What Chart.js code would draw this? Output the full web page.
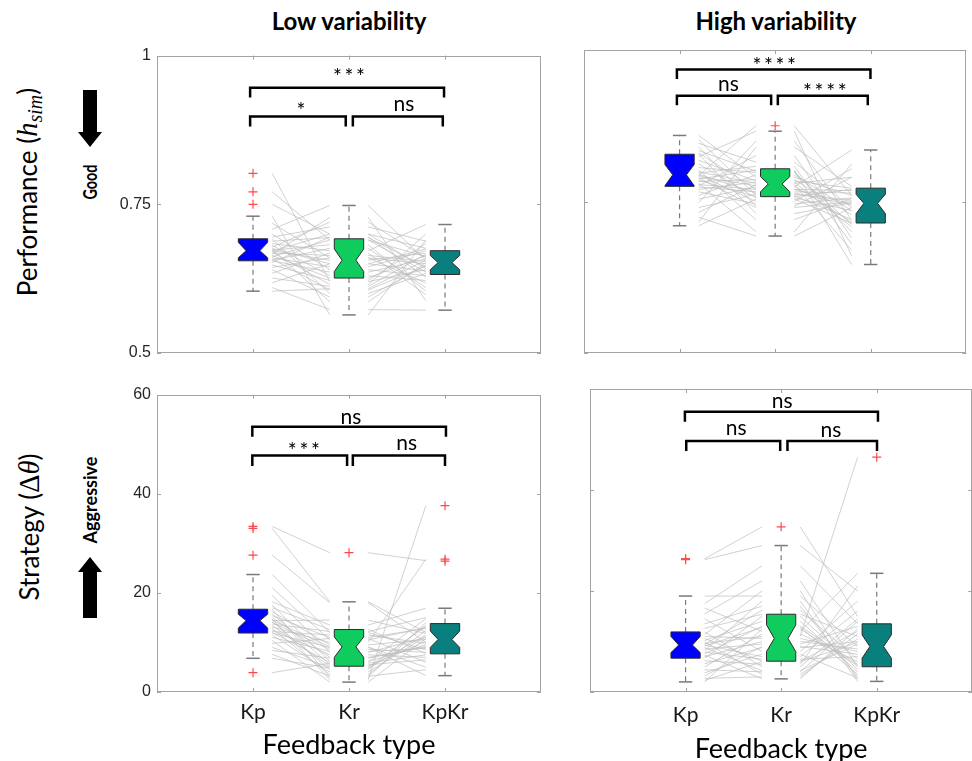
<!DOCTYPE html>
<html>
<head>
<meta charset="utf-8">
<title>Feedback type boxplots</title>
<script src="https://cdn.jsdelivr.net/npm/chart.js@4.4.1/dist/chart.umd.min.js"></script>
<style>
  html, body { margin: 0; padding: 0; background: #fff; overflow: hidden; }
  #page { position: relative; width: 972px; height: 761px; overflow: hidden; }
  canvas { position: absolute; }
  .title { position: absolute; transform: translateX(-50%); font: bold 24px Lato, 'Open Sans', sans-serif; white-space: nowrap; color: #000; }
  .side { position: absolute; transform: translate(-50%, -50%) rotate(-90deg); white-space: nowrap; color: #000; }
  .ylab { font: 26px Lato, 'Open Sans', sans-serif; }
  .hint { font: bold 18px Lato, 'Open Sans', sans-serif; }
  .math { font-family: 'Liberation Serif', 'DejaVu Serif', serif; font-size: 110%; }
  .math sub { font-size: 70%; vertical-align: -0.25em; }
</style>
</head>
<body>
<div id="page">
  <div class="title" style="left:349px; top:6px">Low variability</div>
  <div class="title" style="left:776px; top:6px">High variability</div>

  <div class="side ylab" style="left:29px; top:192px">Performance (<i class="math">h<sub>sim</sub></i>)</div>
  <div class="side ylab" style="left:29px; top:527px">Strategy (<span class="math">&Delta;<i>&theta;</i></span>)</div>
  <div class="side hint" style="left:90px; top:182px; transform: translate(-50%, -50%) rotate(-90deg) scaleX(0.8)">Good</div>
  <div class="side hint" style="left:90px; top:500px">Aggressive</div>

  <svg width="160" height="761" style="position:absolute; left:0; top:0">
    <polygon points="83,90 97,90 97,132 102,132 90,147 78,132 83,132" fill="#000"/>
    <polygon points="90,557 102,572 97,572 97,618 83,618 83,572 78,572" fill="#000"/>
  </svg>

  <canvas id="lowPerf" width="460" height="330" style="left:90px; top:40px"></canvas>
  <canvas id="highPerf" width="412" height="330" style="left:560px; top:40px"></canvas>
  <canvas id="lowStrat" width="460" height="382" style="left:90px; top:379px"></canvas>
  <canvas id="highStrat" width="412" height="386" style="left:566px; top:379px"></canvas>
</div>

<script>
const categories = ['Kp', 'Kr', 'KpKr'];
const perfTicks = [0.5, 0.75, 1];
const strategyTicks = [0, 20, 40, 60];
const boxColors = ['#0000ff', '#10cc5e', '#0a807e'];

// per-participant values, same order in each triple of arrays
const lowPerfKp = [0.802, 0.771, 0.750, 0.730, 0.718, 0.708, 0.700, 0.695, 0.692, 0.688, 0.684, 0.681, 0.678, 0.676, 0.674, 0.673, 0.672, 0.671, 0.670, 0.668, 0.666, 0.664, 0.662, 0.660, 0.658, 0.656, 0.655, 0.652, 0.648, 0.644, 0.640, 0.634, 0.626, 0.618, 0.610, 0.604];
const lowPerfKr = [0.620, 0.690, 0.700, 0.564, 0.660, 0.748, 0.640, 0.712, 0.600, 0.694, 0.672, 0.630, 0.720, 0.650, 0.586, 0.682, 0.656, 0.700, 0.615, 0.664, 0.728, 0.626, 0.690, 0.645, 0.606, 0.676, 0.636, 0.695, 0.622, 0.660, 0.594, 0.668, 0.612, 0.650, 0.573, 0.608];
const lowPerfKpKr = [0.640, 0.662, 0.676, 0.690, 0.650, 0.656, 0.630, 0.688, 0.634, 0.644, 0.716, 0.622, 0.660, 0.675, 0.652, 0.604, 0.668, 0.642, 0.700, 0.654, 0.588, 0.664, 0.636, 0.672, 0.646, 0.610, 0.658, 0.628, 0.684, 0.618, 0.648, 0.598, 0.666, 0.638, 0.572, 0.656];

const highPerfKp = [0.859, 0.852, 0.846, 0.840, 0.834, 0.830, 0.828, 0.824, 0.818, 0.812, 0.806, 0.802, 0.799, 0.797, 0.795, 0.794, 0.793, 0.791, 0.789, 0.787, 0.785, 0.783, 0.780, 0.778, 0.776, 0.774, 0.770, 0.766, 0.760, 0.754, 0.748, 0.740, 0.732, 0.724, 0.716, 0.710];
const highPerfKr = [0.790, 0.760, 0.815, 0.742, 0.800, 0.770, 0.730, 0.866, 0.784, 0.756, 0.798, 0.720, 0.780, 0.808, 0.764, 0.750, 0.875, 0.776, 0.740, 0.802, 0.758, 0.786, 0.700, 0.770, 0.826, 0.766, 0.782, 0.746, 0.794, 0.774, 0.850, 0.762, 0.778, 0.693, 0.840, 0.754];
const highPerfKpKr = [0.760, 0.720, 0.740, 0.790, 0.700, 0.768, 0.748, 0.660, 0.772, 0.735, 0.712, 0.755, 0.790, 0.680, 0.744, 0.804, 0.760, 0.716, 0.750, 0.646, 0.770, 0.728, 0.812, 0.746, 0.690, 0.764, 0.708, 0.756, 0.735, 0.835, 0.720, 0.752, 0.670, 0.740, 0.775, 0.714];

const lowStratKp = [33.4, 33.0, 27.6, 23.7, 21.0, 19.5, 18.2, 17.5, 17.0, 16.7, 16.2, 15.8, 15.4, 15.0, 14.7, 14.5, 14.4, 14.2, 14.0, 13.7, 13.4, 13.1, 12.8, 12.5, 12.2, 12.0, 11.9, 11.5, 11.0, 10.4, 9.8, 9.0, 8.4, 7.6, 6.8, 3.9];
const lowStratKr = [28.1, 18.2, 18.0, 12.0, 10.5, 8.0, 13.5, 6.2, 12.6, 3.0, 9.5, 5.5, 11.0, 7.0, 2.5, 9.1, 14.5, 4.5, 8.6, 12.2, 5.2, 10.0, 3.5, 7.5, 11.5, 6.0, 9.0, 4.0, 8.2, 2.0, 10.8, 5.0, 6.8, 3.2, 4.8, 5.8];
const lowStratKpKr = [26.5, 12.0, 10.0, 8.5, 13.0, 11.0, 16.9, 9.5, 7.8, 14.0, 10.6, 6.5, 12.8, 9.0, 37.6, 5.0, 11.8, 13.5, 8.0, 15.0, 10.2, 26.8, 12.4, 7.0, 9.8, 14.8, 3.3, 11.2, 8.8, 10.8, 6.0, 13.2, 9.2, 4.5, 11.5, 7.5];

const highStratKp = [26.4, 26.2, 19.0, 17.5, 16.6, 15.5, 14.5, 13.5, 12.6, 11.9, 11.4, 11.0, 10.6, 10.2, 9.9, 9.6, 9.4, 9.3, 9.1, 8.8, 8.5, 8.2, 7.9, 7.6, 7.3, 7.0, 6.7, 6.2, 5.6, 5.0, 4.4, 3.8, 3.2, 2.7, 2.3, 2.0];
const highStratKr = [32.7, 29.0, 19.0, 25.0, 12.0, 22.0, 8.0, 17.0, 15.4, 5.0, 20.0, 10.6, 6.1, 14.0, 3.5, 11.0, 16.2, 7.0, 12.8, 4.2, 9.5, 18.0, 6.5, 13.0, 2.6, 10.0, 15.0, 5.5, 8.8, 11.5, 4.0, 7.5, 9.0, 3.0, 6.0, 12.5];
const highStratKpKr = [15.0, 20.0, 9.0, 13.5, 23.5, 5.0, 18.0, 3.0, 11.0, 14.5, 2.5, 8.0, 12.0, 4.0, 10.5, 46.5, 6.5, 16.0, 3.5, 9.5, 13.0, 2.1, 7.0, 5.5, 12.5, 8.5, 4.5, 21.0, 10.0, 6.0, 14.0, 2.8, 7.5, 11.5, 9.8, 5.2];

// box summaries, one entry per feedback type (Kp, Kr, KpKr)
const lowPerfMedian = [0.672, 0.656, 0.652];
const lowPerfQ1 = [0.655, 0.626, 0.632];
const lowPerfQ3 = [0.692, 0.692, 0.672];
const lowPerfWhiskLo = [0.604, 0.564, 0.572];
const lowPerfWhiskHi = [0.730, 0.748, 0.716];
const lowPerfNotchLo = [0.660, 0.637, 0.640];
const lowPerfNotchHi = [0.686, 0.675, 0.664];
const lowPerfOutliers = [[0.802, 0.771, 0.750], [], []];

const highPerfMedian = [0.794, 0.779, 0.747];
const highPerfQ1 = [0.775, 0.758, 0.7145];
const highPerfQ3 = [0.828, 0.804, 0.772];
const highPerfWhiskLo = [0.710, 0.693, 0.646];
const highPerfWhiskHi = [0.859, 0.866, 0.835];
const highPerfNotchLo = [0.776, 0.766, 0.730];
const highPerfNotchHi = [0.811, 0.791, 0.762];
const highPerfOutliers = [[], [0.875], []];

const lowStratMedian = [14.4, 9.1, 10.6];
const lowStratQ1 = [11.9, 5.2, 7.7];
const lowStratQ3 = [16.7, 12.6, 13.8];
const lowStratWhiskLo = [6.8, 2.0, 3.3];
const lowStratWhiskHi = [23.7, 18.2, 16.9];
const lowStratNotchLo = [12.9, 7.0, 9.0];
const lowStratNotchHi = [15.7, 11.1, 12.3];
const lowStratOutliers = [[33.4, 33.0, 27.6, 3.9], [28.1], [37.6, 26.8, 26.4]];

const highStratMedian = [9.3, 10.6, 9.0];
const highStratQ1 = [6.7, 6.1, 5.0];
const highStratQ3 = [11.9, 15.4, 13.5];
const highStratWhiskLo = [2.0, 2.6, 2.1];
const highStratWhiskHi = [19.0, 29.0, 23.5];
const highStratNotchLo = [7.8, 8.0, 6.7];
const highStratNotchHi = [11.0, 13.3, 11.3];
const highStratOutliers = [[26.4, 26.2], [32.7], [46.5]];

// significance brackets (x in category units, y in data units)
const lowPerfBrackets = [
    { from: 0.97, to: 2.99, bar: 0.946, tip: 0.9295, label: '***', lx: 2.0, ly: 0.974 },
    { from: 0.97, to: 1.966, bar: 0.8977, tip: 0.8807, label: '*', lx: 1.5, ly: 0.916 },
    { from: 2.04, to: 2.977, bar: 0.8977, tip: 0.8807, label: 'ns', lx: 2.573, ly: 0.916 }
];
const highPerfBrackets = [
    { from: 0.972, to: 2.997, bar: 0.968, tip: 0.952, label: '****', lx: 1.99, ly: 0.982 },
    { from: 0.972, to: 1.958, bar: 0.9246, tip: 0.9087, label: 'ns', lx: 1.51, ly: 0.941 },
    { from: 2.028, to: 2.969, bar: 0.9246, tip: 0.9087, label: '****', lx: 2.52, ly: 0.94 }
];
const lowStratBrackets = [
    { from: 0.993, to: 3.01, bar: 53.5, tip: 51.5, label: 'ns', lx: 2.02, ly: 55.2 },
    { from: 0.993, to: 1.98, bar: 47.7, tip: 45.6, label: '***', lx: 1.53, ly: 49.7 },
    { from: 2.04, to: 3.0, bar: 47.7, tip: 45.6, label: 'ns', lx: 2.6, ly: 49.9 }
];
const highStratBrackets = [
    { from: 0.993, to: 3.013, bar: 55.5, tip: 53.5, label: 'ns', lx: 2.01, ly: 57.3 },
    { from: 1.007, to: 1.99, bar: 49.7, tip: 47.7, label: 'ns', lx: 1.53, ly: 51.9 },
    { from: 2.066, to: 3.003, bar: 49.7, tip: 47.7, label: 'ns', lx: 2.52, ly: 51.5 }
];

const BOX_HALF = 0.153;
const NOTCH_HALF = 0.072;
const CAP_HALF = 0.07;
const FRAME = '#a3a3a3';

function seg(ctx, x1, y1, x2, y2) {
    ctx.beginPath();
    ctx.moveTo(x1, y1);
    ctx.lineTo(x2, y2);
    ctx.stroke();
}

function panelPlugin(p) {
    return {
        id: 'panel',
        afterDatasetsDraw(chart) {
            const { ctx, scales: { x, y } } = chart;
            const X = v => x.getPixelForValue(v);
            const Y = v => y.getPixelForValue(v);
            ctx.save();

            categories.forEach((c, i) => {
                const cx = X(i + 1);
                const hw = X(i + 1 + BOX_HALF) - cx;
                const nw = X(i + 1 + NOTCH_HALF) - cx;
                const cw = X(i + 1 + CAP_HALF) - cx;

                // whiskers
                ctx.strokeStyle = '#7a7a7a';
                ctx.lineWidth = 1.2;
                ctx.setLineDash([5, 4]);
                seg(ctx, cx, Y(p.q3[i]), cx, Y(p.whiskHi[i]));
                seg(ctx, cx, Y(p.q1[i]), cx, Y(p.whiskLo[i]));
                ctx.setLineDash([]);
                ctx.lineWidth = 1.5;
                seg(ctx, cx - cw, Y(p.whiskHi[i]), cx + cw, Y(p.whiskHi[i]));
                seg(ctx, cx - cw, Y(p.whiskLo[i]), cx + cw, Y(p.whiskLo[i]));

                // notched box
                const nHi = Math.min(p.notchHi[i], p.q3[i]);
                const nLo = Math.max(p.notchLo[i], p.q1[i]);
                ctx.beginPath();
                ctx.moveTo(cx - hw, Y(p.q3[i]));
                ctx.lineTo(cx + hw, Y(p.q3[i]));
                ctx.lineTo(cx + hw, Y(nHi));
                ctx.lineTo(cx + nw, Y(p.median[i]));
                ctx.lineTo(cx + hw, Y(nLo));
                ctx.lineTo(cx + hw, Y(p.q1[i]));
                ctx.lineTo(cx - hw, Y(p.q1[i]));
                ctx.lineTo(cx - hw, Y(nLo));
                ctx.lineTo(cx - nw, Y(p.median[i]));
                ctx.lineTo(cx - hw, Y(nHi));
                ctx.closePath();
                ctx.fillStyle = boxColors[i];
                ctx.fill();
                ctx.strokeStyle = '#2b2b2b';
                ctx.lineWidth = 1;
                ctx.stroke();
            });

            // brackets + stars
            ctx.strokeStyle = '#000';
            ctx.lineWidth = 2.5;
            ctx.lineJoin = 'miter';
            ctx.fillStyle = '#000';
            ctx.font = '21px Lato, "Open Sans", sans-serif';
            ctx.textAlign = 'center';
            ctx.textBaseline = 'alphabetic';
            p.brackets.forEach(b => {
                ctx.beginPath();
                ctx.moveTo(X(b.from), Y(b.tip));
                ctx.lineTo(X(b.from), Y(b.bar));
                ctx.lineTo(X(b.to), Y(b.bar));
                ctx.lineTo(X(b.to), Y(b.tip));
                ctx.stroke();
                const txt = b.label[0] === '*' ? b.label.split('').join('\u2009') : b.label;
                const m = ctx.measureText(txt);
                const base = Y(b.ly) + (m.actualBoundingBoxAscent - m.actualBoundingBoxDescent) / 2;
                ctx.fillText(txt, X(b.lx), base);
            });
            ctx.restore();
        },
        afterDraw(chart) {
            const { ctx, chartArea: a, scales: { x, y } } = chart;
            ctx.save();
            ctx.strokeStyle = FRAME;
            ctx.lineWidth = 1;
            ctx.strokeRect(Math.round(a.left) + 0.5, Math.round(a.top) + 0.5,
                Math.round(a.width) - 1, Math.round(a.height) - 1);
            // MATLAB style inward ticks on all four sides
            const tk = 4;
            categories.forEach((c, i) => {
                const px = Math.round(x.getPixelForValue(i + 1)) + 0.5;
                seg(ctx, px, a.top, px, a.top + tk);
                seg(ctx, px, a.bottom, px, a.bottom - tk);
            });
            p.ticks.forEach(v => {
                const py = Math.round(y.getPixelForValue(v)) + 0.5;
                seg(ctx, a.left, py, a.left + tk, py);
                seg(ctx, a.right, py, a.right - tk, py);
            });
            ctx.restore();
        }
    };
}

function subjectDatasets(kp, kr, kpkr) {
    return kp.map((v, i) => ({
        data: [
            { x: 1.2, y: v }, { x: 1.8, y: kr[i] }, { x: 2, y: null },
            { x: 2.2, y: kr[i] }, { x: 2.8, y: kpkr[i] }
        ],
        showLine: true,
        spanGaps: false,
        borderColor: 'rgba(190,190,190,0.7)',
        borderWidth: 1,
        pointRadius: 0
    }));
}

function outlierDataset(outliers) {
    const pts = [];
    outliers.forEach((list, i) => list.forEach(v => pts.push({ x: i + 1, y: v })));
    return {
        data: pts,
        showLine: false,
        pointStyle: 'cross',
        pointRadius: 4.5,
        borderColor: '#ff4a4a',
        borderWidth: 1.2,
        backgroundColor: '#ff4a4a'
    };
}

function makePanel(id, p) {
    new Chart(document.getElementById(id), {
        type: 'scatter',
        data: { datasets: [...subjectDatasets(p.kp, p.kr, p.kpkr), outlierDataset(p.outliers)] },
        options: {
            responsive: false,
            animation: false,
            events: [],
            layout: { padding: { top: 10, right: p.padRight, left: 0, bottom: 0 } },
            plugins: { legend: { display: false }, tooltip: { enabled: false } },
            scales: {
                x: {
                    type: 'linear', min: 0, max: 4,
                    grid: { display: false, drawTicks: false },
                    border: { display: false },
                    afterBuildTicks: s => { s.ticks = categories.map((c, i) => ({ value: i + 1 })); },
                    afterFit: s => { s.height = p.xHeight; },
                    ticks: {
                        display: p.showX, autoSkip: false, maxRotation: 0,
                        padding: p.tickPad,
                        color: '#1a1a1a',
                        font: { family: 'Lato, "Open Sans", sans-serif', size: 21 },
                        callback: v => categories[v - 1]
                    },
                    title: {
                        display: p.showX, text: 'Feedback type', color: '#000',
                        font: { family: 'Lato, "Open Sans", sans-serif', size: 27 },
                        padding: { top: 0, bottom: p.titlePad }
                    }
                },
                y: {
                    min: p.ticks[0], max: p.ticks[p.ticks.length - 1],
                    grid: { display: false, drawTicks: false },
                    border: { display: false },
                    afterBuildTicks: s => { s.ticks = p.ticks.map(v => ({ value: v })); },
                    afterFit: s => { s.width = p.yWidth; },
                    ticks: {
                        display: p.showY, padding: 6, color: '#262626',
                        font: { family: '"Liberation Sans", Arial, sans-serif', size: 16 },
                        callback: v => String(v)
                    }
                }
            }
        },
        plugins: [panelPlugin(p)]
    });
}

makePanel('lowPerf', {
    kp: lowPerfKp, kr: lowPerfKr, kpkr: lowPerfKpKr,
    median: lowPerfMedian, q1: lowPerfQ1, q3: lowPerfQ3,
    whiskLo: lowPerfWhiskLo, whiskHi: lowPerfWhiskHi,
    notchLo: lowPerfNotchLo, notchHi: lowPerfNotchHi,
    outliers: lowPerfOutliers, brackets: lowPerfBrackets, ticks: perfTicks,
    showX: false, showY: true, yWidth: 67, xHeight: 17, padRight: 9, tickPad: 0, titlePad: 0
});
makePanel('highPerf', {
    kp: highPerfKp, kr: highPerfKr, kpkr: highPerfKpKr,
    median: highPerfMedian, q1: highPerfQ1, q3: highPerfQ3,
    whiskLo: highPerfWhiskLo, whiskHi: highPerfWhiskHi,
    notchLo: highPerfNotchLo, notchHi: highPerfNotchHi,
    outliers: highPerfOutliers, brackets: highPerfBrackets, ticks: perfTicks,
    showX: false, showY: false, yWidth: 24, xHeight: 17, padRight: 4, tickPad: 0, titlePad: 0
});
makePanel('lowStrat', {
    kp: lowStratKp, kr: lowStratKr, kpkr: lowStratKpKr,
    median: lowStratMedian, q1: lowStratQ1, q3: lowStratQ3,
    whiskLo: lowStratWhiskLo, whiskHi: lowStratWhiskHi,
    notchLo: lowStratNotchLo, notchHi: lowStratNotchHi,
    outliers: lowStratOutliers, brackets: lowStratBrackets, ticks: strategyTicks,
    showX: true, showY: true, yWidth: 67, xHeight: 69, padRight: 9, tickPad: 8, titlePad: 0
});
makePanel('highStrat', {
    kp: highStratKp, kr: highStratKr, kpkr: highStratKpKr,
    median: highStratMedian, q1: highStratQ1, q3: highStratQ3,
    whiskLo: highStratWhiskLo, whiskHi: highStratWhiskHi,
    notchLo: highStratNotchLo, notchHi: highStratNotchHi,
    outliers: highStratOutliers, brackets: highStratBrackets, ticks: strategyTicks,
    showX: true, showY: false, yWidth: 24, xHeight: 73, padRight: 4, tickPad: 11, titlePad: 0
});
</script>
</body>
</html>
